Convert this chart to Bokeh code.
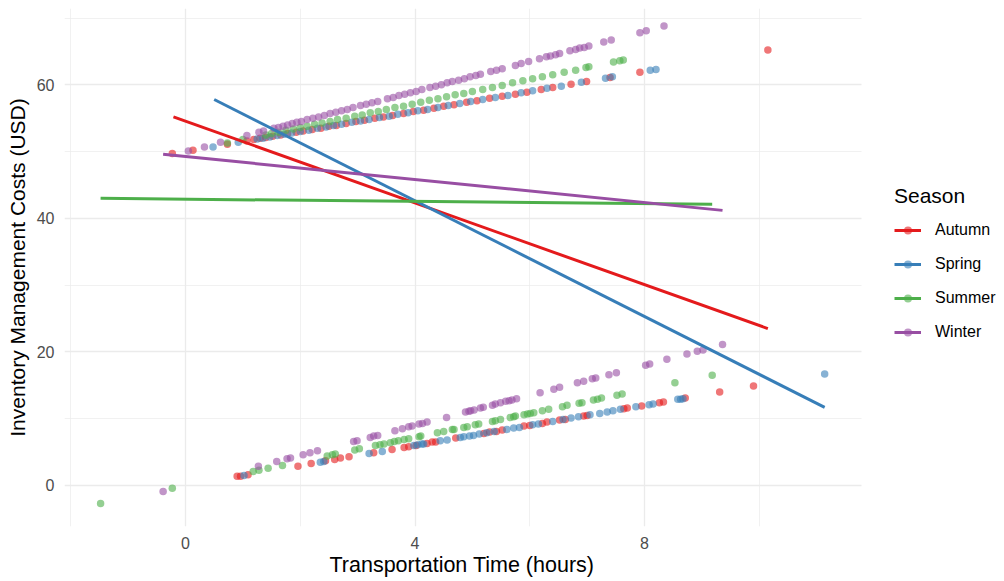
from bokeh.plotting import figure
from bokeh.models import (Range1d, FixedTicker, Legend, LegendItem, ColumnDataSource,
                          BoxAnnotation, Title)
from bokeh.embed import file_html
from bokeh.resources import INLINE

# ---------------- data ----------------
seasons = ["Autumn", "Spring", "Summer", "Winter"]
colors = ["#E41A1C", "#377EB8", "#4DAF4A", "#984EA3"]

autumn_x = [-0.23, 0.13, 0.73, 1.07, 1.19, 1.30, 1.40, 1.52, 1.66, 1.78, 1.93, 2.05, 2.21, 2.36,
            2.50, 2.63, 2.80, 2.97, 3.12, 3.30, 3.45, 3.61, 3.80, 3.97, 4.15, 4.33, 4.50, 4.68,
            4.90, 5.08, 5.30, 5.52, 5.75, 5.95, 6.20, 6.40, 6.72, 6.99, 7.40, 7.92, 10.15,
            0.90, 0.96, 1.09, 1.96, 2.19, 2.44, 2.60, 2.70, 2.85, 3.28, 3.60, 3.81, 3.89, 4.02,
            4.21, 4.30, 4.36, 4.71, 5.20, 5.30, 5.42, 5.52, 5.90, 6.00, 6.22, 6.30, 6.52, 6.62,
            6.94, 7.00, 7.64, 7.70, 7.95, 8.26, 8.33, 8.71, 9.31, 9.90]
autumn_y = [49.7, 50.2, 51.1, 51.6, 51.8, 52.0, 52.1, 52.3, 52.5, 52.7, 52.9, 53.1, 53.3, 53.5,
            53.8, 53.9, 54.2, 54.5, 54.7, 55.0, 55.2, 55.4, 55.7, 56.0, 56.2, 56.5, 56.8, 57.0,
            57.4, 57.6, 58.0, 58.3, 58.6, 58.9, 59.3, 59.6, 60.1, 60.5, 61.1, 61.9, 65.2,
            1.4, 1.4, 1.6, 2.9, 3.3, 3.7, 3.9, 4.1, 4.3, 4.9, 5.4, 5.7, 5.8, 6.0,
            6.3, 6.5, 6.5, 7.1, 7.8, 8.0, 8.1, 8.3, 8.9, 9.0, 9.3, 9.5, 9.8, 9.9,
            10.4, 10.5, 11.5, 11.6, 11.9, 12.4, 12.5, 13.1, 14.0, 14.9]

spring_x = [0.48, 0.92, 1.25, 1.35, 1.47, 1.60, 1.72, 1.85, 2.00, 2.15, 2.30, 2.45, 2.58, 2.72,
            2.90, 3.05, 3.20, 3.38, 3.55, 3.70, 3.88, 4.05, 4.22, 4.40, 4.58, 4.78, 4.97, 5.18,
            5.40, 5.62, 5.85, 6.05, 6.30, 6.55, 6.90, 7.32, 7.44, 8.10, 8.20,
            1.02, 2.35, 2.41, 3.20, 3.43, 3.98, 4.05, 4.12, 4.15, 4.44, 4.56, 4.79, 4.85, 4.95,
            5.02, 5.12, 5.25, 5.38, 5.60, 5.72, 5.82, 6.05, 6.15, 6.40, 6.58, 6.72, 6.85, 7.05,
            7.22, 7.35, 7.45, 7.58, 7.85, 8.08, 8.15, 8.58, 8.63, 8.67, 11.14]
spring_y = [50.7, 51.4, 51.9, 52.0, 52.2, 52.4, 52.6, 52.8, 53.0, 53.2, 53.5, 53.7, 53.9, 54.1,
            54.4, 54.6, 54.8, 55.1, 55.3, 55.6, 55.8, 56.1, 56.3, 56.6, 56.9, 57.2, 57.5, 57.8,
            58.1, 58.4, 58.8, 59.1, 59.5, 59.8, 60.4, 61.0, 61.2, 62.2, 62.3,
            1.5, 3.5, 3.6, 4.8, 5.1, 6.0, 6.1, 6.2, 6.2, 6.7, 6.8, 7.2, 7.3, 7.4,
            7.5, 7.7, 7.9, 8.1, 8.4, 8.6, 8.7, 9.1, 9.2, 9.6, 9.9, 10.1, 10.3, 10.6,
            10.8, 11.0, 11.2, 11.4, 11.8, 12.1, 12.2, 12.9, 12.9, 13.0, 16.7]

summer_x = [0.73, 1.00, 1.40, 1.50, 1.62, 1.75, 1.88, 2.00, 2.12, 2.25, 2.38, 2.52, 2.65, 2.80,
            2.95, 3.08, 3.22, 3.36, 3.50, 3.65, 3.80, 3.95, 4.10, 4.25, 4.40, 4.55, 4.70, 4.85,
            5.00, 5.18, 5.35, 5.52, 5.70, 5.88, 6.05, 6.22, 6.40, 6.60, 6.80, 6.98, 7.03, 7.46,
            7.57, 7.63,
            -1.48, -0.23, 1.18, 1.28, 1.44, 1.69, 2.47, 2.56, 2.61, 2.95, 3.03, 3.31, 3.39, 3.46,
            3.57, 3.64, 3.71, 3.81, 3.89, 4.07, 4.10, 4.39, 4.50, 4.65, 4.68, 4.85, 4.91, 5.05,
            5.11, 5.35, 5.40, 5.49, 5.66, 5.72, 5.75, 5.90, 5.96, 6.01, 6.07, 6.22, 6.33, 6.57,
            6.65, 6.86, 6.91, 7.11, 7.18, 7.25, 7.52, 7.61, 8.53, 9.18]
summer_y = [51.3, 51.8, 52.5, 52.7, 52.9, 53.2, 53.4, 53.6, 53.8, 54.1, 54.3, 54.5, 54.8, 55.0,
            55.3, 55.5, 55.8, 56.0, 56.3, 56.6, 56.8, 57.1, 57.4, 57.7, 57.9, 58.2, 58.5, 58.7,
            59.0, 59.3, 59.6, 59.9, 60.3, 60.6, 60.9, 61.2, 61.5, 61.9, 62.2, 62.6, 62.7, 63.4,
            63.6, 63.7,
            -2.7, -0.4, 2.1, 2.3, 2.6, 3.0, 4.4, 4.6, 4.7, 5.3, 5.5, 6.0, 6.1, 6.2,
            6.4, 6.6, 6.7, 6.9, 7.0, 7.3, 7.4, 7.9, 8.1, 8.4, 8.4, 8.7, 8.8, 9.1,
            9.2, 9.6, 9.7, 9.9, 10.2, 10.3, 10.4, 10.6, 10.7, 10.8, 10.9, 11.2, 11.4, 11.8,
            12.0, 12.3, 12.4, 12.8, 12.9, 13.1, 13.5, 13.7, 15.4, 16.5]

winter_x = [0.05, 0.33, 0.61, 1.07, 1.28, 1.36, 1.54, 1.62, 1.70, 1.78, 1.86, 1.94, 2.02, 2.12,
            2.22, 2.32, 2.42, 2.52, 2.62, 2.72, 2.82, 2.92, 3.05, 3.15, 3.25, 3.35, 3.52, 3.62,
            3.72, 3.82, 3.92, 4.02, 4.12, 4.26, 4.36, 4.46, 4.56, 4.65, 4.76, 4.86, 4.96, 5.06,
            5.14, 5.32, 5.42, 5.52, 5.75, 5.85, 5.98, 6.17, 6.29, 6.36, 6.45, 6.52, 6.70, 6.80,
            6.87, 6.95, 7.03, 7.29, 7.42, 7.92, 8.03, 8.34,
            -0.39, 1.27, 1.59, 1.77, 1.83, 2.05, 2.17, 2.30, 2.93, 2.99, 3.22, 3.28, 3.35, 3.65,
            3.78, 3.89, 3.95, 4.07, 4.13, 4.21, 4.55, 4.88, 4.94, 4.97, 5.03, 5.14, 5.19, 5.35,
            5.40, 5.49, 5.58, 5.64, 5.69, 5.77, 6.18, 6.42, 6.52, 6.83, 6.94, 7.09, 7.15, 7.38,
            7.51, 8.02, 8.09, 8.39, 8.74, 8.92, 9.02, 9.36]
winter_y = [50.1, 50.7, 51.4, 52.4, 52.9, 53.1, 53.5, 53.6, 53.8, 54.0, 54.2, 54.4, 54.5, 54.8,
            55.0, 55.2, 55.4, 55.7, 55.9, 56.1, 56.3, 56.6, 56.9, 57.1, 57.3, 57.5, 57.9, 58.1,
            58.4, 58.6, 58.8, 59.0, 59.3, 59.6, 59.8, 60.0, 60.3, 60.5, 60.7, 60.9, 61.2, 61.4,
            61.6, 62.0, 62.2, 62.4, 62.9, 63.2, 63.5, 63.9, 64.2, 64.3, 64.5, 64.7, 65.1, 65.3,
            65.5, 65.6, 65.8, 66.4, 66.7, 67.8, 68.1, 68.8,
            -0.9, 2.9, 3.6, 4.0, 4.1, 4.6, 4.9, 5.2, 6.6, 6.7, 7.2, 7.4, 7.5, 8.2,
            8.5, 8.8, 8.9, 9.2, 9.3, 9.5, 10.2, 11.0, 11.1, 11.2, 11.3, 11.6, 11.7, 12.0,
            12.2, 12.4, 12.6, 12.7, 12.8, 13.0, 13.9, 14.4, 14.7, 15.4, 15.6, 16.0, 16.1, 16.6,
            16.9, 18.0, 18.2, 18.9, 19.7, 20.1, 20.3, 21.1]

# fitted (lm) line end points per season
fit_x_start = [-0.21, 0.50, -1.48, -0.39]
fit_y_start = [55.2, 57.8, 43.0, 49.6]
fit_x_end = [10.15, 11.14, 9.18, 9.36]
fit_y_end = [23.5, 11.7, 42.1, 41.2]

x_ticks = [0, 4, 8]
x_minor = [-2, 2, 6, 10]
y_ticks = [0, 20, 40, 60]
y_minor = [10, 30, 50, 70]

x_title = "Transportation Time (hours)"
y_title = "Inventory Management Costs (USD)"
legend_title = "Season"

# panel limits (data units)
X_MIN, X_MAX = -2.109, 11.782
Y_MIN, Y_MAX = -6.14, 71.43
PX_PER_X = 57.375          # panel scale, used to stretch the frame under the legend area
FRAME_LEFT = 64
FIG_W, FIG_H = 1004, 581
X_FRAME_END = X_MIN + (FIG_W - FRAME_LEFT) / PX_PER_X

# ---------------- figure ----------------
FONT = "Liberation Sans"
p = figure(width=FIG_W, height=FIG_H,
           x_range=Range1d(X_MIN, X_FRAME_END), y_range=Range1d(Y_MIN, Y_MAX),
           output_backend="svg", toolbar_location=None,
           min_border_left=FRAME_LEFT, min_border_right=0, min_border_top=8, min_border_bottom=55)
p.outline_line_color = None
p.background_fill_color = "white"
p.border_fill_color = "white"

p.xaxis.ticker = FixedTicker(ticks=x_ticks, minor_ticks=x_minor)
p.yaxis.ticker = FixedTicker(ticks=y_ticks, minor_ticks=y_minor)
p.xaxis.bounds = (X_MIN, X_MAX)
for ax in (p.xaxis[0], p.yaxis[0]):
    ax.axis_line_color = None
    ax.major_tick_line_color = None
    ax.minor_tick_line_color = None
    ax.major_tick_out = 0
    ax.major_tick_in = 0
    ax.minor_tick_out = 0
    ax.minor_tick_in = 0
    ax.major_label_text_font = FONT
    ax.major_label_text_font_size = "16px"
    ax.major_label_text_color = "#4D4D4D"
    ax.axis_label_text_font = FONT
    ax.axis_label_text_font_size = "21px"
    ax.axis_label_text_font_style = "normal"
    ax.axis_label_text_color = "#000000"
p.yaxis.axis_label = y_title
p.xaxis.major_label_standoff = 10
p.yaxis.major_label_standoff = 10
p.yaxis.axis_label_standoff = 5

# x title centred under the data panel (not under the legend strip)
p.add_layout(Title(text=x_title, align="left", offset=265, vertical_align="top",
                   standoff=2, text_font=FONT, text_font_size="21.5px",
                   text_font_style="normal", text_color="#000000"), "below")

for g in (p.xgrid[0], p.ygrid[0]):
    g.grid_line_color = "#EBEBEB"
    g.grid_line_width = 1.3
    g.minor_grid_line_color = "#EBEBEB"
    g.minor_grid_line_width = 0.7

has_cross = "cross_bounds" in p.ygrid[0].properties()
if has_cross:
    p.ygrid[0].cross_bounds = (X_MIN, X_MAX)
else:
    p.add_layout(BoxAnnotation(left=X_MAX, fill_color="white", fill_alpha=1.0,
                               line_color=None, level="annotation"))

xs = [autumn_x, spring_x, summer_x, winter_x]
ys = [autumn_y, spring_y, summer_y, winter_y]

scat = []
for sx, sy, c in zip(xs, ys, colors):
    src = ColumnDataSource(dict(x=sx, y=sy))
    r = p.scatter("x", "y", source=src, size=7.5, fill_color=c, fill_alpha=0.6,
                  line_color=None)
    scat.append(r)

lines = []
for i, c in enumerate(colors):
    src = ColumnDataSource(dict(x=[fit_x_start[i], fit_x_end[i]],
                                y=[fit_y_start[i], fit_y_end[i]]))
    r = p.line("x", "y", source=src, line_color=c, line_width=3)
    lines.append(r)

items = [LegendItem(label=s, renderers=[lines[i], scat[i]]) for i, s in enumerate(seasons)]
legend = Legend(items=items, location=(830, 184),
                title=legend_title, title_text_font=FONT, title_text_font_size="21px",
                title_text_font_style="normal", title_text_color="#000000", title_standoff=12,
                label_text_font=FONT, label_text_font_size="16px", label_text_color="#000000",
                border_line_color=None, background_fill_alpha=0, padding=0, margin=0,
                spacing=14, glyph_width=27, glyph_height=20, label_height=20,
                label_standoff=14)
p.add_layout(legend)

open("out.html", "w").write(file_html(p, INLINE))
